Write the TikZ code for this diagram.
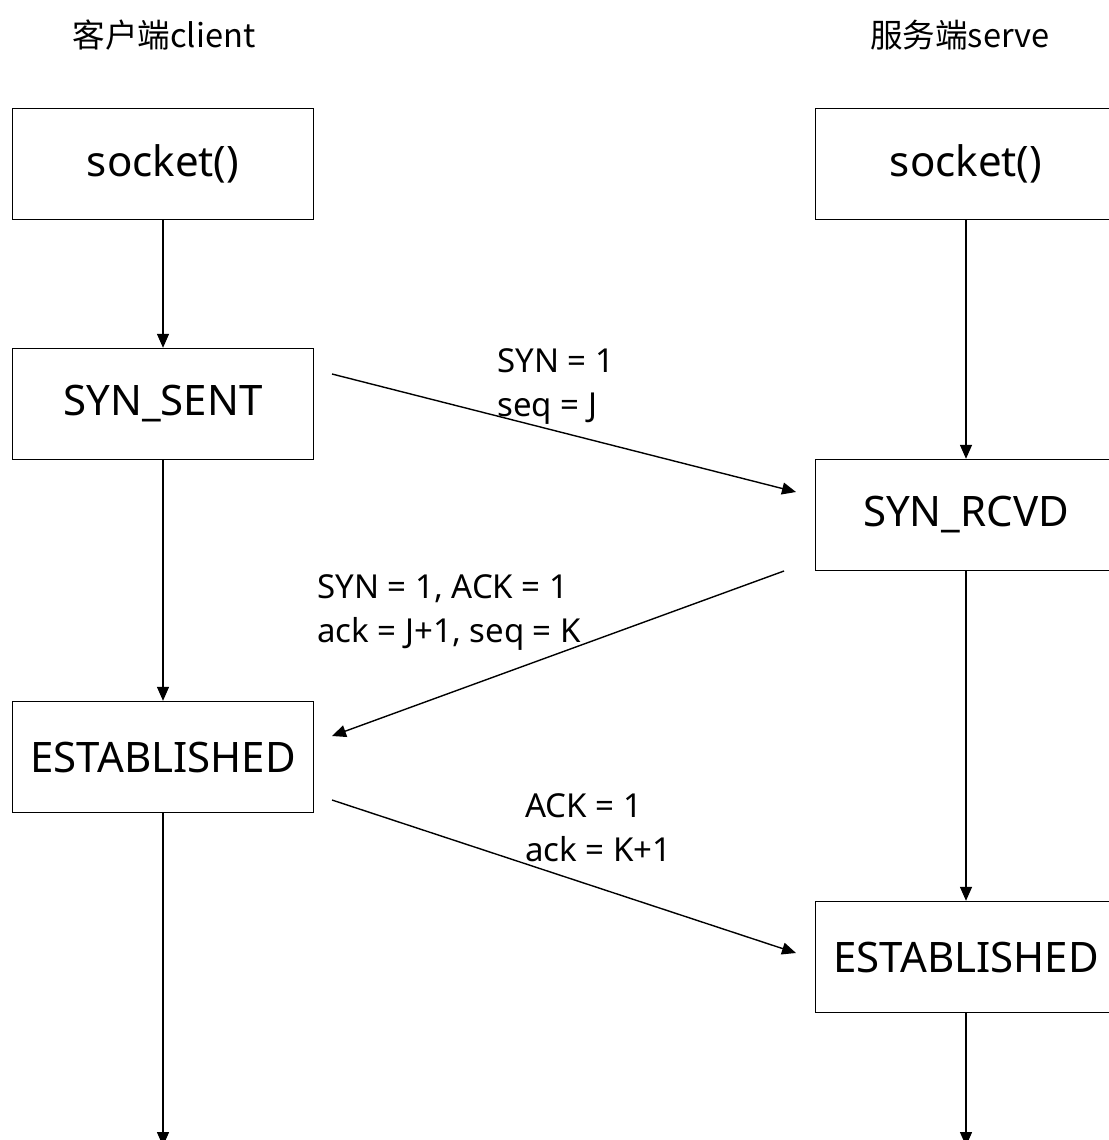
\documentclass[tikz,border=0pt]{standalone}
\usepackage{fontspec}
\setmainfont{Noto Sans}
\newfontfamily\cjk{Noto Sans CJK SC}
\usetikzlibrary{arrows.meta, positioning, calc}

\tikzset{
  statebox/.style={draw, line width=0.7pt, minimum width=150.5pt, minimum height=55.5pt,
    font=\fontsize{21}{25}\selectfont},
  msg/.style={anchor=base west, align=left, inner sep=0pt, font=\fontsize{16.5}{22}\selectfont},
  flow/.style={line width=0.7pt, -{Triangle[length=7pt,width=6pt]}},
}

\begin{document}
\begin{tikzpicture}[x=0.5pt, y=-0.5pt]
  \useasboundingbox (0,0) rectangle (1108,1140);
  % column titles
  \node[font=\cjk\fontsize{16.3}{19}\selectfont] (cli) at (164,35) {客户端client};
  \node[font=\cjk\fontsize{16.3}{19}\selectfont] (srv) at (960,35) {服务端serve};

  % client side
  \node[statebox] (csock) at (163,164) {socket()};
  \node[statebox] (csent) at (163,404) {SYN\_SENT};
  \node[statebox] (cest)  at (163,757) {ESTABLISHED};
  \coordinate (cend) at (163,1146);

  % server side
  \node[statebox] (ssock) at (966,164) {socket()};
  \node[statebox] (srcvd) at (966,515) {SYN\_RCVD};
  \node[statebox] (sest)  at (966,957) {ESTABLISHED};
  \coordinate (send) at (966,1146);

  \draw[flow] (csock) -- (csent);
  \draw[flow] (csent) -- (cest);
  \draw[flow] (cest) -- (cend);
  \draw[flow] (ssock) -- (srcvd);
  \draw[flow] (srcvd) -- (sest);
  \draw[flow] (sest) -- (send);

  % handshake
  \coordinate (h1a) at (332,374);
  \coordinate (h1b) at (796,492);
  \coordinate (h2a) at (784,571);
  \coordinate (h2b) at (332,736);
  \coordinate (h3a) at (332,800);
  \coordinate (h3b) at (796,953);
  \draw[flow] (h1a) -- (h1b);
  \draw[flow] (h2a) -- (h2b);
  \draw[flow] (h3a) -- (h3b);

  \node[msg] (m1) at (497,416) {SYN = 1\\seq = J};
  \node[msg] (m2) at (317,642) {SYN = 1, ACK = 1\\ack = J+1, seq = K};
  \node[msg] (m3) at (525,861) {ACK = 1\\ack = K+1};
\end{tikzpicture}
\end{document}
